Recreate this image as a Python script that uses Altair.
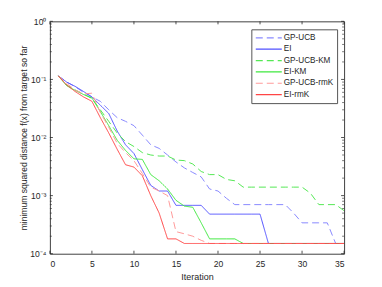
import altair as alt
import pandas as pd

iterations = list(range(1, 36))

gp_ucb = [0.115, 0.09, 0.075, 0.06, 0.05, 0.042, 0.03, 0.022, 0.019, 0.016,
          0.011, 0.0075, 0.0065, 0.005, 0.0038, 0.003, 0.0025, 0.0021, 0.0013, 0.0012,
          0.0009, 0.0007, 0.0007, 0.0007, 0.0007, 0.0007, 0.0007, 0.0007, 0.0005, 0.00034,
          0.00034, 0.00034, 0.00034, 0.00015, 0.00015]
ei = [0.115, 0.09, 0.076, 0.062, 0.05, 0.036, 0.026, 0.013, 0.0075, 0.0053,
      0.0028, 0.0015, 0.0012, 0.0012, 0.00068, 0.00068, 0.00068, 0.00068, 0.00048, 0.00048,
      0.00048, 0.00048, 0.00048, 0.00048, 0.00048, 0.00015, 0.00015, 0.00015, 0.00015, 0.00015,
      0.00015, 0.00015, 0.00015, 0.00015, 0.00015]
gp_ucb_km = [0.115, 0.08, 0.066, 0.056, 0.047, 0.03, 0.019, 0.012, 0.0085, 0.007,
             0.0055, 0.005, 0.0048, 0.0048, 0.0041, 0.004, 0.0035, 0.0026, 0.0023, 0.0023,
             0.0019, 0.0018, 0.0014, 0.0014, 0.0014, 0.0014, 0.0014, 0.0014, 0.0014, 0.0014,
             0.0011, 0.0007, 0.0007, 0.0007, 0.00055]
ei_km = [0.115, 0.078, 0.065, 0.055, 0.048, 0.028, 0.016, 0.009, 0.006, 0.0043,
         0.0042, 0.0023, 0.0018, 0.0013, 0.00083, 0.00066, 0.00063, 0.00034, 0.00018, 0.00018,
         0.00018, 0.00018, 0.00015, 0.00015, 0.00015, 0.00015, 0.00015, 0.00015, 0.00015, 0.00015,
         0.00015, 0.00015, 0.00015, 0.00015, 0.00015]
gp_ucb_rmk = [0.115, 0.085, 0.066, 0.056, 0.058, 0.027, 0.015, 0.008, 0.0055, 0.004,
              0.0024, 0.0014, 0.0012, 0.001, 0.00024, 0.00022, 0.0002, 0.00017, 0.00015, 0.00015,
              0.00015, 0.00015, 0.00015, 0.00015, 0.00015, 0.00015, 0.00015, 0.00015, 0.00015, 0.00015,
              0.00015, 0.00015, 0.00015, 0.00015, 0.00015]
ei_rmk = [0.115, 0.08, 0.062, 0.05, 0.042, 0.022, 0.012, 0.0063, 0.0034, 0.0031,
          0.0022, 0.001, 0.0005, 0.00018, 0.00018, 0.00015, 0.00015, 0.00015, 0.00015, 0.00015,
          0.00015, 0.00015, 0.00015, 0.00015, 0.00015, 0.00015, 0.00015, 0.00015, 0.00015, 0.00015,
          0.00015, 0.00015, 0.00015, 0.00015, 0.00015]

series_names = ["GP-UCB", "EI", "GP-UCB-KM", "EI-KM", "GP-UCB-rmK", "EI-rmK"]
series_values = [gp_ucb, ei, gp_ucb_km, ei_km, gp_ucb_rmk, ei_rmk]
series_colors = ["#8a8aff", "#5050ff", "#55e855", "#3ee83e", "#ff9a9a", "#ff4545"]
series_dashes = [[7, 4], [1, 0], [7, 4], [1, 0], [7, 4], [1, 0]]

x_ticks = [0, 5, 10, 15, 20, 25, 30, 35]
y_major = [1e-4, 1e-3, 1e-2, 1e-1, 1.0]
y_minor = [k * 10.0 ** e for e in range(-4, 0) for k in range(2, 10)]

rows = []
for order, (name, vals) in enumerate(zip(series_names, series_values)):
    for it, v in zip(iterations, vals):
        rows.append({"series": name, "order": order, "iteration": it, "value": v})
df = pd.DataFrame(rows)

W, H = 295, 233
xs = alt.Scale(domain=[0, 35], nice=False, zero=False)
ys = alt.Scale(type="log", domain=[1e-4, 1], nice=False)

font = "Liberation Sans"
axis_color = "#262626"
fs = 8.6


def make_legend():
    return alt.Legend(title=None, orient="none", legendX=202, legendY=8,
                      symbolType="stroke", symbolSize=680, clipHeight=10,
                      symbolStrokeWidth=1.2, labelFontSize=8.2, labelFont=font,
                      labelColor=axis_color, strokeColor="#555",
                      fillColor="white", padding=3.5, rowPadding=1.4,
                      labelOffset=1)


lines = alt.Chart(df).mark_line(strokeWidth=1, clip=True).encode(
    x=alt.X("iteration:Q", scale=xs,
            axis=alt.Axis(values=x_ticks, ticks=False, domain=False, grid=False,
                          title="Iteration", labelPadding=6, titlePadding=4,
                          labelFontSize=fs, titleFontSize=fs + 0.4, titleFontWeight="normal",
                          labelFont=font, titleFont=font, labelColor=axis_color,
                          titleColor=axis_color)),
    y=alt.Y("value:Q", scale=ys,
            axis=alt.Axis(values=y_major, ticks=False, domain=False, grid=False,
                          labelExpr="'10' + (datum.value >= 1 ? '⁰' : datum.value >= 0.1 ? '⁻¹' : datum.value >= 0.01 ? '⁻²' : datum.value >= 0.001 ? '⁻³' : '⁻⁴')",
                          title="minimum squared distance f(x) from target so far",
                          labelPadding=4, titleX=-26, titleY=H / 2,
                          titleBaseline="middle", titleAlign="center", titleAngle=270,
                          labelFontSize=fs, titleFontSize=fs, titleFontWeight="normal",
                          labelFont=font, titleFont=font, labelColor=axis_color,
                          titleColor=axis_color)),
    color=alt.Color("series:N", sort=series_names,
                    scale=alt.Scale(domain=series_names, range=series_colors),
                    legend=make_legend()),
    strokeDash=alt.StrokeDash("series:N", sort=series_names,
                              scale=alt.Scale(domain=series_names, range=series_dashes),
                              legend=make_legend()),
    order="order:Q",
    detail="series:N",
)

xt = pd.DataFrame({"t": x_ticks})
ymaj = pd.DataFrame({"t": y_major})
ymin = pd.DataFrame({"t": y_minor})

tc = axis_color
x_bot = alt.Chart(xt).mark_rule(color=tc, strokeWidth=0.8).encode(
    x=alt.X("t:Q", scale=xs), y=alt.value(H), y2=alt.value(H - 3))
x_top = alt.Chart(xt).mark_rule(color=tc, strokeWidth=0.8).encode(
    x=alt.X("t:Q", scale=xs), y=alt.value(0), y2=alt.value(3))
y_left = alt.Chart(ymaj).mark_rule(color=tc, strokeWidth=0.8).encode(
    y=alt.Y("t:Q", scale=ys), x=alt.value(0), x2=alt.value(3))
y_right = alt.Chart(ymaj).mark_rule(color=tc, strokeWidth=0.8).encode(
    y=alt.Y("t:Q", scale=ys), x=alt.value(W), x2=alt.value(W - 3))
ym_left = alt.Chart(ymin).mark_rule(color=tc, strokeWidth=0.6).encode(
    y=alt.Y("t:Q", scale=ys), x=alt.value(0), x2=alt.value(2))
ym_right = alt.Chart(ymin).mark_rule(color=tc, strokeWidth=0.6).encode(
    y=alt.Y("t:Q", scale=ys), x=alt.value(W), x2=alt.value(W - 2))

chart = alt.layer(lines, x_bot, x_top, y_left, y_right, ym_left, ym_right).properties(
    width=W, height=H,
    autosize=alt.AutoSizeParams(type="none"),
    padding={"left": 42, "top": 13, "right": 30, "bottom": 30},
    background="white",
).configure_view(stroke="#404040", strokeWidth=1)

chart.save("out.html", embed_options={"renderer": "svg", "actions": False})
